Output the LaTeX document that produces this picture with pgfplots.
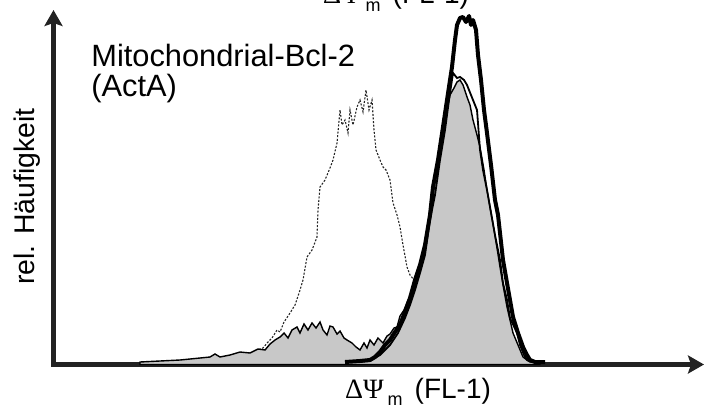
\documentclass[border=0pt]{standalone}
\usepackage{fontspec}
\setmainfont{Liberation Sans}
\newfontfamily\grk{Liberation Serif}
\usepackage{pgfplots}
\pgfplotsset{compat=1.18}
\usetikzlibrary{arrows.meta}

\definecolor{histgray}{RGB}{200,200,200}
\definecolor{axisblk}{RGB}{34,34,34}

% Delta Psi_m with the small sans m
\newcommand{\dpsi}{{\grk ΔΨ}\hspace{2pt}\raisebox{-0.5ex}{\fontsize{9}{9}\selectfont m}\hspace{6pt}}

\begin{document}
\begin{tikzpicture}
\begin{axis}[
 x=0.5pt, y=0.5pt,
 xmin=53.5, xmax=704, ymin=0, ymax=354.5,
 axis lines=left,
 axis line style={axisblk, line width=2.6pt, line cap=rect,
   -{Stealth[length=8pt,width=9pt,inset=1.5pt]}},
 ticks=none,
 clip=false,
]
% control (dotted)
\addplot[black!85, line width=0.55pt, dash pattern=on 1pt off 0.8pt] coordinates {
 (160,2.5) (200,3.5) (230,6.5) (250,9.5) (258,14.5) (263,16.5) (268,22.5)
 (272,26.5) (277,34.5) (280,32.5) (284,42.5) (290,51.5) (295,59.5) (300,74.5)
 (303,84.5) (307,107.5) (312,114.5) (317,127.5) (318,154.5) (320,177.5)
 (325,184.5) (330,196.5) (333,204.5) (337,221.5) (340,254.5) (342,239.5)
 (345,244.5) (348,231.5) (350,254.5) (353,239.5) (357,257.5) (360,264.5)
 (363,252.5) (366,274.5) (369,254.5) (372,264.5) (374,234.5) (376,214.5)
 (380,204.5) (383,197.5) (386,194.5) (390,184.5) (393,161.5) (397,149.5)
 (400,137.5) (403,119.5) (407,97.5) (410,89.5) (414,84.5) (417,79.5)
 (420,44.5) (423,36.5) (427,34.5) (429,19.5) (432,14.5) (436,10.5)
 (440,8.5) (445,4.5) (452,2.5) (460,2.5)};

% gray filled histogram
\addplot[black, line width=0.7pt, fill=histgray] coordinates {
 (140,2.5) (160,3.5) (180,4.5) (200,6.5) (210,7.5) (215,10.5) (220,7.5)
 (230,9.5) (240,12.5) (250,11.5) (258,15.5) (265,14.5) (270,20.5) (275,24.5)
 (280,27.5) (284,31.5) (288,26.5) (292,34.5) (297,37.5) (300,31.5) (304,40.5)
 (308,34.5) (312,41.5) (316,36.5) (320,42.5) (323,34.5) (327,29.5) (330,38.5)
 (333,37.5) (337,30.5) (340,33.5) (344,26.5) (347,24.5) (352,21.5) (356,17.5)
 (360,14.5) (364,21.5) (367,16.5) (370,24.5) (374,19.5) (378,26.5) (383,21.5)
 (387,28.5) (390,30.5) (394,36.5) (397,37.5) (400,48.5) (404,54.5) (408,64.5)
 (413,71.5) (418,89.5) (423,104.5) (427,129.5) (431,164.5) (437,191.5)
 (442,224.5) (447,254.5) (450,269.5) (454,276.5) (457,282.5) (460,284.5)
 (463,279.5) (467,267.5) (470,259.5) (473,244.5) (477,229.5) (480,217.5)
 (484,194.5) (487,174.5) (490,157.5) (494,134.5) (497,116.5) (500,97.5)
 (503,79.5) (507,57.5) (510,44.5) (513,31.5) (518,19.5) (523,7.5) (527,4.5)
 (530,2.5) (540,2.5)} \closedcycle;

% thin black histogram
\addplot[black, line width=0.9pt] coordinates {
 (355,2.5) (370,3.5) (380,9.5) (390,19.5) (398,31.5) (405,46.5) (410,59.5)
 (415,74.5) (420,91.5) (425,109.5) (430,144.5) (435,169.5) (440,204.5)
 (445,234.5) (449,264.5) (453,291.5) (457,286.5) (460,287.5) (464,284.5)
 (467,279.5) (473,264.5) (477,254.5) (480,214.5) (483,194.5) (487,174.5)
 (490,157.5) (495,129.5) (500,104.5) (503,81.5) (507,64.5) (510,46.5)
 (517,31.5) (520,19.5) (524,9.5) (527,4.5) (532,2.5)};

% thick black histogram
\addplot[black, line width=2pt, line join=round] coordinates {
 (345,2.5) (360,3.5) (370,4.5) (375,7.5) (380,12.5) (385,19.5) (390,24.5)
 (395,32.5) (400,39.5) (405,52.5) (410,66.5) (415,84.5) (420,99.5) (425,119.5)
 (430,149.5) (433,177.5) (438,204.5) (443,237.5) (447,264.5) (450,284.5)
 (452,297.5) (455,324.5) (457,339.5) (460,346.5) (463,347.5) (466,342.5)
 (469,348.5) (471,339.5) (473,344.5) (476,334.5) (478,309.5) (481,284.5)
 (484,254.5) (487,231.5) (491,199.5) (495,164.5) (498,149.5) (500,131.5)
 (503,104.5) (507,81.5) (510,64.5) (513,47.5) (518,31.5) (523,17.5)
 (527,9.5) (530,4.5) (535,2.5) (545,2.5)};

\node[anchor=base west, font=\fontsize{15.4}{18}\selectfont, inner sep=0pt]
  at (axis cs:91,297.5) {Mitochondrial-Bcl-2};
\node[anchor=base west, font=\fontsize{15.4}{18}\selectfont, inner sep=0pt]
  at (axis cs:91,267.5) {(ActA)};
\node[rotate=90, anchor=base, font=\fontsize{14.2}{17}\selectfont, inner sep=0pt]
  at (axis cs:35,168) {rel. Häufigkeit};
\node[anchor=base, font=\fontsize{14}{16}\selectfont, inner sep=0pt]
  at (axis cs:418,-33.5) {\dpsi(FL-1)};
\node[anchor=base, font=\fontsize{14}{16}\selectfont, inner sep=0pt]
  at (axis cs:396,360.5) {\dpsi(FL-1)};

\coordinate (bl) at (axis cs:0,-42.5);
\coordinate (tr) at (axis cs:704,364.5);
\end{axis}
\pgfresetboundingbox
\path[use as bounding box] (bl) rectangle (tr);
\end{tikzpicture}
\end{document}
